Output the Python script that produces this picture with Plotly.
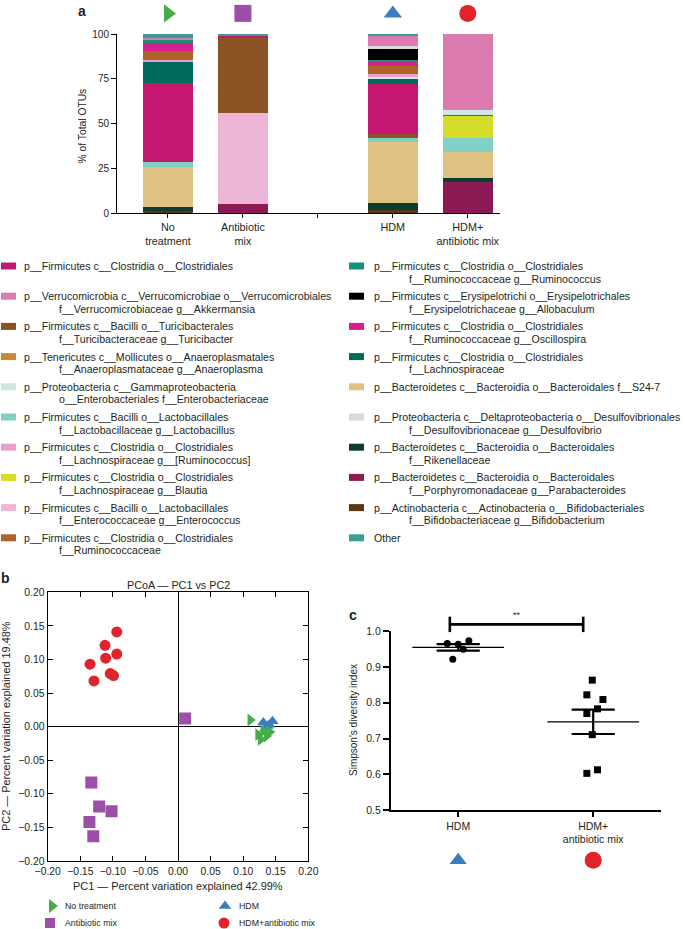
import plotly.graph_objects as go
import numpy as np

W, H = 685, 929
FONT = "Liberation Sans, Arial, Helvetica, sans-serif"
TXT = "#231f20"

def px(x):
    return x / W

def py(y):
    return 1 - y / H

# ---------------- Panel a : stacked bars ----------------
group_pos = [0, 1, 3, 4]
group_ticks = [0, 1, 2, 3, 4]
group_ticklabels = ["No<br>treatment", "Antibiotic<br>mix", "", "HDM", "HDM+<br>antibiotic mix"]

taxa_stack = ["Bifidobacterium", "Parabacteroides", "Rikenellaceae", "S24-7", "Lactobacillus",
              "Blautia", "Enterococcus", "Turicibacter", "Clostridiales", "Lachnospiraceae",
              "Enterobacteriaceae", "[Ruminococcus]", "Ruminococcaceae", "Anaeroplasma",
              "Oscillospira", "Ruminococcus", "Allobaculum", "Desulfovibrio", "Akkermansia", "Other"]

no_treatment   = [1.3, 0, 2.4, 22.0, 2.8, 0, 0, 0, 44.1, 11.8, 0, 1.2, 4.7, 0, 5.0, 1.1, 0, 0, 1.4, 2.2]
antibiotic_mix = [0, 5.2, 0, 0, 0, 0, 51.0, 42.1, 1.1, 0, 0, 0, 0, 0, 0, 0, 0, 0, 0, 0.6]
hdm            = [1.8, 0, 4.1, 34.1, 1.9, 0, 0, 2.4, 27.9, 2.8, 0.8, 1.8, 4.7, 0, 2.4, 0.9, 6.0, 1.5, 5.9, 1.0]
hdm_antibiotic = [0, 17.5, 2.4, 14.5, 7.5, 12.5, 0, 0.5, 0, 0, 2.8, 0, 0, 0, 0, 0, 0, 0, 42.3, 0]

taxa_colors = {
    "Clostridiales": "#c4176f",
    "Akkermansia": "#dc7bb0",
    "Turicibacter": "#8b5224",
    "Anaeroplasma": "#c68a37",
    "Enterobacteriaceae": "#cfe6e4",
    "Lactobacillus": "#80d0c5",
    "[Ruminococcus]": "#e8a2c9",
    "Blautia": "#d6dc2a",
    "Enterococcus": "#edb5d6",
    "Ruminococcaceae": "#b0622a",
    "Ruminococcus": "#13917b",
    "Allobaculum": "#000000",
    "Oscillospira": "#d91f8d",
    "Lachnospiraceae": "#006a5d",
    "S24-7": "#dfc281",
    "Desulfovibrio": "#d9d9d9",
    "Rikenellaceae": "#0c3d2e",
    "Parabacteroides": "#8b1a55",
    "Bifidobacterium": "#5a3712",
    "Other": "#3a9e96",
}

legend_left = [
    ("Clostridiales", "p__Firmicutes c__Clostridia o__Clostridiales", ""),
    ("Akkermansia", "p__Verrucomicrobia c__Verrucomicrobiae o__Verrucomicrobiales", "f__Verrucomicrobiaceae g__Akkermansia"),
    ("Turicibacter", "p__Firmicutes c__Bacilli o__Turicibacterales", "f__Turicibacteraceae g__Turicibacter"),
    ("Anaeroplasma", "p__Tenericutes c__Mollicutes o__Anaeroplasmatales", "f__Anaeroplasmataceae g__Anaeroplasma"),
    ("Enterobacteriaceae", "p__Proteobacteria c__Gammaproteobacteria", "o__Enterobacteriales f__Enterobacteriaceae"),
    ("Lactobacillus", "p__Firmicutes c__Bacilli o__Lactobacillales", "f__Lactobacillaceae g__Lactobacillus"),
    ("[Ruminococcus]", "p__Firmicutes c__Clostridia o__Clostridiales", "f__Lachnospiraceae g__[Ruminococcus]"),
    ("Blautia", "p__Firmicutes c__Clostridia o__Clostridiales", "f__Lachnospiraceae g__Blautia"),
    ("Enterococcus", "p__Firmicutes c__Bacilli o__Lactobacillales", "f__Enterococcaceae g__Enterococcus"),
    ("Ruminococcaceae", "p__Firmicutes c__Clostridia o__Clostridiales", "f__Ruminococcaceae"),
]
legend_right = [
    ("Ruminococcus", "p__Firmicutes c__Clostridia o__Clostridiales", "f__Ruminococcaceae g__Ruminococcus"),
    ("Allobaculum", "p__Firmicutes c__Erysipelotrichi o__Erysipelotrichales", "f__Erysipelotrichaceae g__Allobaculum"),
    ("Oscillospira", "p__Firmicutes c__Clostridia o__Clostridiales", "f__Ruminococcaceae g__Oscillospira"),
    ("Lachnospiraceae", "p__Firmicutes c__Clostridia o__Clostridiales", "f__Lachnospiraceae"),
    ("S24-7", "p__Bacteroidetes c__Bacteroidia o__Bacteroidales f__S24-7", ""),
    ("Desulfovibrio", "p__Proteobacteria c__Deltaproteobacteria o__Desulfovibrionales", "f__Desulfovibrionaceae g__Desulfovibrio"),
    ("Rikenellaceae", "p__Bacteroidetes c__Bacteroidia o__Bacteroidales", "f__Rikenellaceae"),
    ("Parabacteroides", "p__Bacteroidetes c__Bacteroidia o__Bacteroidales", "f__Porphyromonadaceae g__Parabacteroides"),
    ("Bifidobacterium", "p__Actinobacteria c__Actinobacteria o__Bifidobacteriales", "f__Bifidobacteriaceae g__Bifidobacterium"),
    ("Other", "Other", ""),
]

group_symbols = ["triangle-right", "square", "triangle-up", "circle"]
group_colors = ["#45ad45", "#9c4fa6", "#3a7ebf", "#e1242b"]
group_names = ["No treatment", "Antibiotic mix", "HDM", "HDM+antibiotic mix"]

# ---------------- Panel b : PCoA ----------------
nt_pc1 = [0.111, 0.123, 0.127, 0.131, 0.136, 0.141]
nt_pc2 = [0.010, -0.012, -0.019, -0.006, -0.014, -0.008]
abx_pc1 = [0.011, -0.133, -0.121, -0.102, -0.136, -0.130]
abx_pc2 = [0.012, -0.083, -0.119, -0.126, -0.142, -0.163]
hdm_pc1 = [0.131, 0.145, 0.137, 0.134, 0.140]
hdm_pc2 = [0.006, 0.008, 0.001, -0.003, 0.003]
hab_pc1 = [-0.135, -0.129, -0.112, -0.111, -0.104, -0.099, -0.094, -0.094]
hab_pc2 = [0.093, 0.068, 0.121, 0.102, 0.079, 0.076, 0.108, 0.141]

# ---------------- Panel c : Simpson ----------------
simpson_groups = ["HDM", "HDM+<br>antibiotic mix"]
hdm_simpson = [0.965, 0.963, 0.949, 0.973, 0.921]
hdm_jitter = [-0.081, 0.0, 0.037, 0.079, -0.04]
hab_simpson = [0.863, 0.822, 0.809, 0.783, 0.770, 0.711, 0.603, 0.613]
hab_jitter = [-0.007, -0.047, 0.072, 0.032, -0.047, -0.007, -0.047, 0.032]

# pixel geometry of the three panels
A_X = (117, 500); A_Y = (213.3, 34)
A_XR = (-0.68, 4.43); A_YR = (0, 100)
B_X = (47.7, 308.3); B_Y = (861, 592.3)
C_X = (390.7, 660.7); C_Y = (810.3, 631)
C_XR = (-0.5, 1.5); C_YR = (0.5, 1.0)

def to_px(x, y, PX, PY, XR, YR):
    X = PX[0] + (x - XR[0]) / (XR[1] - XR[0]) * (PX[1] - PX[0])
    Y = PY[0] + (y - YR[0]) / (YR[1] - YR[0]) * (PY[1] - PY[0])
    return X, Y

def a_to_px(x, y):
    return to_px(x, y, A_X, A_Y, A_XR, A_YR)

def c_to_px(x, y):
    return to_px(x, y, C_X, C_Y, C_XR, C_YR)

fig = go.Figure()

# stacked bars
for i, taxon in enumerate(taxa_stack):
    fig.add_trace(go.Bar(
        x=group_pos,
        y=[no_treatment[i], antibiotic_mix[i], hdm[i], hdm_antibiotic[i]],
        marker=dict(color=taxa_colors[taxon], line=dict(width=0)),
        width=0.66, name=taxon, showlegend=False, xaxis="x", yaxis="y"))

# PCoA points
pcoa_sets = [(hab_pc1, hab_pc2, 3), (abx_pc1, abx_pc2, 1), (hdm_pc1, hdm_pc2, 2), (nt_pc1, nt_pc2, 0)]
pcoa_sizes = {0: 11, 1: 12, 2: 11, 3: 11}
for xs, ys, g in pcoa_sets:
    fig.add_trace(go.Scatter(
        x=xs, y=ys, mode="markers", name=group_names[g],
        marker=dict(symbol=group_symbols[g], color=group_colors[g], size=pcoa_sizes[g],
                    opacity=1, line=dict(width=0)),
        showlegend=False, xaxis="x2", yaxis="y2"))

# Simpson points + mean / SEM
simpson_sets = [(hdm_simpson, hdm_jitter, 0, "circle"), (hab_simpson, hab_jitter, 1, "square")]
for vals, jit, gx, sym in simpson_sets:
    v = np.array(vals)
    mean = v.mean()
    sem = v.std(ddof=1) / np.sqrt(len(v))
    fig.add_trace(go.Scatter(
        x=[gx + j for j in jit], y=vals, mode="markers", cliponaxis=False,
        marker=dict(symbol=sym, color="black", size=7, opacity=1), showlegend=False, xaxis="x3", yaxis="y3"))
    fig.add_trace(go.Scatter(
        x=[gx - 0.34, gx + 0.34], y=[mean, mean], mode="lines",
        line=dict(color="black", width=1.3), showlegend=False, xaxis="x3", yaxis="y3"))
    fig.add_trace(go.Scatter(
        x=[gx - 0.16, gx + 0.16, None, gx, gx, None, gx - 0.16, gx + 0.16],
        y=[mean + sem, mean + sem, None, mean + sem, mean - sem, None, mean - sem, mean - sem],
        mode="lines", line=dict(color="black", width=2.2), showlegend=False, xaxis="x3", yaxis="y3"))

# significance bracket (drawn on full-figure overlay so it is not clipped)
br_x0, br_x1, br_y, br_lo, br_hi = -0.062, 0.926, 1.0186, 0.997, 1.040
bx, by = [], []
for (xa, ya), (xb, yb) in [((br_x0, br_hi), (br_x0, br_lo)), ((br_x0, br_y), (br_x1, br_y)),
                           ((br_x1, br_hi), (br_x1, br_lo))]:
    p1 = c_to_px(xa, ya); p2 = c_to_px(xb, yb)
    bx += [p1[0], p2[0], None]; by += [p1[1], p2[1], None]
fig.add_trace(go.Scatter(x=bx, y=by, mode="lines", line=dict(color="black", width=2.6),
                         showlegend=False, xaxis="x4", yaxis="y4", hoverinfo="skip"))

# group icons above bars (overlay, positioned from the bar axis mapping)
bar_icons = [a_to_px(gp, 111.5) for gp in group_pos]
fig.add_trace(go.Scatter(
    x=[p[0] for p in bar_icons], y=[p[1] for p in bar_icons], mode="markers",
    marker=dict(symbol=group_symbols, color=group_colors, size=[16, 17, 16, 17], opacity=1, line=dict(width=0)),
    showlegend=False, xaxis="x4", yaxis="y4", hoverinfo="skip"))

# icons under Simpson categories
simp_icons = [c_to_px(gx, 0.361) for gx in [0, 1]]
fig.add_trace(go.Scatter(
    x=[p[0] for p in simp_icons], y=[p[1] for p in simp_icons], mode="markers",
    marker=dict(symbol=[group_symbols[2], group_symbols[3]], color=[group_colors[2], group_colors[3]],
                size=[15, 17], opacity=1, line=dict(width=0)),
    showlegend=False, xaxis="x4", yaxis="y4", hoverinfo="skip"))

# PCoA legend icons (overlay, pixel coords)
leg_icon_x = [52, 225, 50, 224]
leg_icon_y = [906, 906, 923, 923]
leg_order = [0, 2, 1, 3]
fig.add_trace(go.Scatter(
    x=leg_icon_x, y=leg_icon_y, mode="markers",
    marker=dict(symbol=[group_symbols[g] for g in leg_order], color=[group_colors[g] for g in leg_order],
                size=[12, 11, 10, 11], opacity=1, line=dict(width=0)),
    showlegend=False, xaxis="x4", yaxis="y4", hoverinfo="skip"))

annotations = []
shapes = []

def add_text(x, y, text, size=10, xanchor="left", yanchor="middle", angle=0, bold=False):
    t = "<b>%s</b>" % text if bold else text
    annotations.append(dict(x=px(x), y=py(y), xref="paper", yref="paper", text=t, showarrow=False,
                            xanchor=xanchor, yanchor=yanchor, textangle=angle,
                            font=dict(size=size, family=FONT, color=TXT)))

# taxa legend
row_step = 30.2
for col, (entries, sx0, tx, tx2) in enumerate([(legend_left, 1, 22, 57), (legend_right, 349, 372, 407)]):
    for r, (key, l1, l2) in enumerate(entries):
        y = 266 + r * row_step
        shapes.append(dict(type="rect", xref="paper", yref="paper",
                           x0=px(sx0), x1=px(sx0 + 15), y0=py(y - 3.5), y1=py(y + 3.5),
                           fillcolor=taxa_colors[key], line=dict(width=0)))
        add_text(tx, y, l1, size=10.6)
        if l2:
            add_text(tx2, y + 12.5, l2, size=10.6)

# panel letters & titles
add_text(82, 0.5, "a", size=14, xanchor="center", yanchor="top", bold=True)
add_text(5, 578, "b", size=14, xanchor="center", bold=True)
add_text(353, 615, "c", size=14, xanchor="center", bold=True)
add_text(82, 126.5, "% of Total OTUs", size=10.3, xanchor="center", angle=-90)
add_text(178.5, 584.5, "PCoA — PC1 vs PC2", size=10.8, xanchor="center")
add_text(178, 886, "PC1 — Percent variation explained 42.99%", size=10.9, xanchor="center")
add_text(6, 726, "PC2 — Percent variation explained 19.48%", size=10.9, xanchor="center", angle=-90)
add_text(353, 720, "Simpson's diversity index", size=10, xanchor="center", angle=-90)
add_text(517, 615, "**", size=9, xanchor="center")

# PCoA legend texts
for x, y, g in [(63, 906, 0), (237, 906, 2), (63, 923, 1), (237, 923, 3)]:
    add_text(x, y, group_names[g], size=8.8)

axis_common = dict(showgrid=False, color="black", linecolor="black", tickcolor="black", automargin=False)
tf_a = dict(size=10, family=FONT, color=TXT)
tf_ax = dict(size=10.8, family=FONT, color=TXT)
tf_b = dict(size=10.4, family=FONT, color=TXT)
tf_c = dict(size=10.5, family=FONT, color=TXT)

fig.update_layout(
    width=W, height=H, margin=dict(l=0, r=0, t=0, b=0, pad=0, autoexpand=False),
    paper_bgcolor="white", plot_bgcolor="rgba(0,0,0,0)",
    barmode="stack", bargap=0, showlegend=False,
    font=dict(family=FONT, color=TXT, size=10),
    xaxis=dict(domain=[px(A_X[0]), px(A_X[1])], range=list(A_XR), tickvals=group_ticks, ticktext=group_ticklabels,
               showline=True, linewidth=1, ticks="outside", ticklen=4, zeroline=False, anchor="y",
               tickfont=tf_ax, **axis_common),
    yaxis=dict(domain=[py(A_Y[0]), py(A_Y[1])], range=list(A_YR), tickvals=[0, 25, 50, 75, 100],
               showline=True, linewidth=1, ticks="outside", ticklen=5, zeroline=False, anchor="x",
               tickfont=tf_a, **axis_common),
    xaxis2=dict(domain=[px(B_X[0]), px(B_X[1])], range=[-0.2, 0.2], dtick=0.05, tick0=0, tickformat=".2f",
                showline=True, mirror="ticks", linewidth=1.2, ticks="inside", ticklen=5,
                zeroline=True, zerolinecolor="black", zerolinewidth=1.2, anchor="y2",
                tickfont=tf_b, **axis_common),
    yaxis2=dict(domain=[py(B_Y[0]), py(B_Y[1])], range=[-0.2, 0.2], dtick=0.05, tick0=0, tickformat=".2f",
                showline=True, mirror="ticks", linewidth=1.2, ticks="inside", ticklen=5,
                zeroline=True, zerolinecolor="black", zerolinewidth=1.2, anchor="x2",
                tickfont=tf_b, **axis_common),
    xaxis3=dict(domain=[px(C_X[0]), px(C_X[1])], range=list(C_XR), tickvals=[0, 1], ticktext=simpson_groups,
                showline=True, linewidth=1.6, ticks="outside", ticklen=5, tickwidth=1.6, zeroline=False,
                anchor="y3", tickfont=tf_c, **axis_common),
    yaxis3=dict(domain=[py(C_Y[0]), py(C_Y[1])], range=list(C_YR), dtick=0.1, tick0=0.5, tickformat=".1f",
                showline=True, linewidth=1.6, ticks="outside", ticklen=6, tickwidth=1.6, zeroline=False,
                anchor="x3", tickfont=tf_c, **axis_common),
    xaxis4=dict(domain=[0, 1], range=[0, W], visible=False, anchor="y4", fixedrange=True, automargin=False),
    yaxis4=dict(domain=[0, 1], range=[H, 0], visible=False, anchor="x4", fixedrange=True, automargin=False),
    annotations=annotations, shapes=shapes,
)

fig.write_html("out.html", config={"displayModeBar": False},
               post_script="document.body.style.margin='0';document.body.style.padding='0';"
                           "document.documentElement.style.overflow='hidden';")
